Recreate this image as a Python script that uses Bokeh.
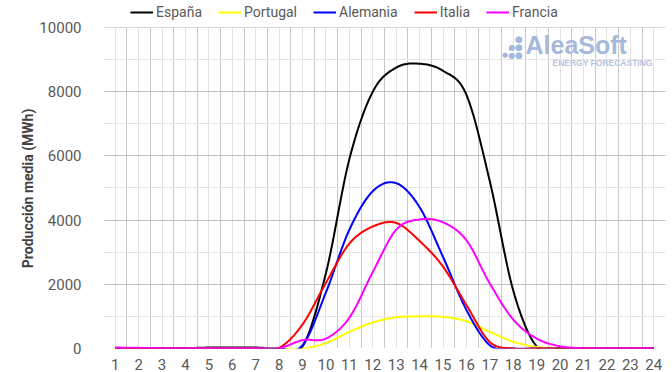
import numpy as np
from bokeh.plotting import figure
from bokeh.models import FixedTicker, Legend, LegendItem, Label, Range1d, BoxAnnotation, Span
from bokeh.embed import file_html
from bokeh.resources import INLINE

hours = list(range(1, 25))
espana = [10, 10, 10, 10, 30, 30, 30, 0, 60, 2350, 5900, 8000, 8750, 8870, 8650, 7900, 5200, 1800, 60, 0, 0, 0, 0, 0]
portugal = [0, 0, 0, 0, 0, 0, 0, 0, 0, 170, 520, 810, 970, 1000, 985, 850, 520, 210, 50, 0, 0, 0, 0, 0]
alemania = [0, 0, 0, 0, 0, 0, 0, 0, 100, 1750, 3700, 4900, 5150, 4400, 2850, 1200, 100, 0, 0, 0, 0, 0, 0, 0]
italia = [10, 0, 0, 0, 0, 0, 0, 20, 750, 2050, 3270, 3800, 3910, 3350, 2550, 1350, 200, 0, 0, 0, 0, 0, 0, 0]
francia = [30, 20, 10, 10, 10, 10, 10, 10, 260, 310, 960, 2380, 3700, 4020, 3930, 3370, 2020, 900, 310, 70, 10, 10, 10, 10]

names = ["España", "Portugal", "Alemania", "Italia", "Francia"]
values = [espana, portugal, alemania, italia, francia]
colors = ["#000000", "#ffff00", "#0000ff", "#ff0000", "#ff00ff"]
y_ticks = [0, 2000, 4000, 6000, 8000, 10000]
y_minor = [0, 1000, 2000, 3000, 4000, 5000, 6000, 7000, 8000, 9000, 10000]
y_max = y_ticks[-1]

FONT = "Roboto"
TXT = "#595959"


def smooth(xs, ys, n=16):
    xs = np.asarray(xs, float)
    ys = np.asarray(ys, float)
    px = np.concatenate([[xs[0]], xs, [xs[-1]]])
    py = np.concatenate([[ys[0]], ys, [ys[-1]]])
    t = np.linspace(0, 1, n, endpoint=False)
    ox, oy = [], []
    for i in range(1, len(px) - 2):
        p0x, p0y = px[i], py[i]
        p1x, p1y = px[i + 1], py[i + 1]
        c1x = p0x + (px[i + 1] - px[i - 1]) / 6
        c1y = p0y + (py[i + 1] - py[i - 1]) / 6
        c2x = p1x - (px[i + 2] - px[i]) / 6
        c2y = p1y - (py[i + 2] - py[i]) / 6
        a = (1 - t) ** 3
        b = 3 * (1 - t) ** 2 * t
        c = 3 * (1 - t) * t ** 2
        d = t ** 3
        ox.extend(a * p0x + b * c1x + c * c2x + d * p1x)
        oy.extend(a * p0y + b * c1y + c * c2y + d * p1y)
    ox.append(xs[-1])
    oy.append(ys[-1])
    return ox, oy


# the frame extends above the 10000 line to leave room for the legend at the top
p = figure(width=672, height=372, x_range=Range1d(0.5, 24.5), y_range=Range1d(0, y_max * 348.5 / 321.5),
           output_backend="svg", toolbar_location=None,
           min_border_left=103, min_border_right=7, min_border_top=0, min_border_bottom=20)
p.outline_line_color = None
p.background_fill_color = "white"
p.border_fill_color = "white"

# grids
p.xgrid.ticker = FixedTicker(ticks=[h - 0.5 for h in hours] + [hours[-1] + 0.5], minor_ticks=hours)
p.xgrid.grid_line_color = "#c8c8c8"
p.xgrid.minor_grid_line_color = "#e3e3e3"
p.ygrid.ticker = FixedTicker(ticks=y_ticks, minor_ticks=y_minor)
p.ygrid.grid_line_color = "#c0c0c0"
p.ygrid.minor_grid_line_color = "#e6e6e6"

# hide grid above the top of the value axis
p.add_layout(BoxAnnotation(bottom=y_max, fill_color="white", fill_alpha=1.0, line_alpha=0, level="underlay"))
p.add_layout(Span(location=y_max, dimension="width", line_color="#d9d9d9", line_width=1, level="underlay"))

# axes
p.xaxis.ticker = FixedTicker(ticks=hours)
p.xaxis.axis_line_color = None
p.xaxis.major_tick_line_color = None
p.xaxis.minor_tick_line_color = None
p.xaxis.major_label_standoff = 4
p.xaxis.major_label_text_font = FONT
p.xaxis.major_label_text_font_size = "15px"
p.xaxis.major_label_text_color = TXT

p.yaxis.ticker = FixedTicker(ticks=y_ticks)
p.yaxis.axis_line_color = None
p.yaxis.major_tick_line_color = None
p.yaxis.minor_tick_line_color = None
p.yaxis.major_label_standoff = 16
p.yaxis.major_label_text_font = FONT
p.yaxis.major_label_text_font_size = "15px"
p.yaxis.major_label_text_color = TXT
p.yaxis.axis_label = "Producción media (MWh)" + "\u00a0" * 8
p.yaxis.axis_label_text_font = FONT
p.yaxis.axis_label_text_font_style = "bold"
p.yaxis.axis_label_text_font_size = "14px"
p.yaxis.axis_label_text_color = "#404040"
p.yaxis.axis_label_standoff = 0

items = []
for name, vals, col in zip(names, values, colors):
    sx, sy = smooth(hours, vals)
    r = p.line(sx, sy, line_color=col, line_width=2)
    items.append(LegendItem(label=name, renderers=[r]))

legend = Legend(items=items, orientation="horizontal", location=(27, 328),
                label_text_font=FONT, label_text_font_size="14px", label_text_color=TXT,
                glyph_width=23, glyph_height=14, label_height=14, label_standoff=3,
                spacing=16, padding=0, margin=0, border_line_alpha=0, background_fill_alpha=0)
p.add_layout(legend, "center")

# AleaSoft logo (decoration)
LOGO = "#a6b9dd"
p.add_layout(Label(x=422, y=289.5, x_units="screen", y_units="screen", text="AleaSoft",
                   text_font="Liberation Sans", text_font_style="bold", text_font_size="25px",
                   text_color=LOGO))
p.add_layout(Label(x=449, y=281, x_units="screen", y_units="screen", text="ENERGY FORECASTING",
                   text_font="Liberation Sans", text_font_style="bold", text_font_size="8.5px",
                   text_color="#b4c4e4"))
for dx, dy, fs in [(415.5, 309.5, "9px"), (415.5, 301.5, "9px"), (415.5, 293.5, "9px"),
                   (408.5, 301.5, "8px"), (408.5, 293.5, "8px"), (401.5, 293.5, "7px")]:
    p.add_layout(Label(x=dx, y=dy, x_units="screen", y_units="screen", text="●",
                       text_font="DejaVu Sans", text_font_size=fs, text_color=LOGO,
                       text_align="center", text_baseline="middle"))

open("out.html", "w").write(file_html(p, INLINE))
